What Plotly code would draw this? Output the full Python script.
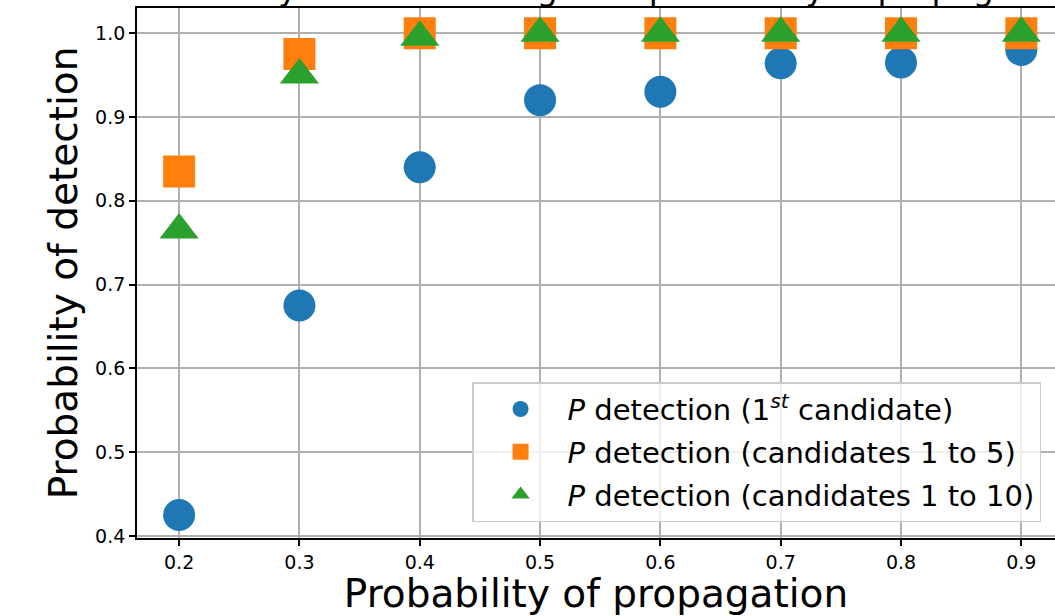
import plotly.graph_objects as go

# Data
p_propagation = [0.2, 0.3, 0.4, 0.5, 0.6, 0.7, 0.8, 0.9]
p_first = [0.425, 0.675, 0.84, 0.92, 0.93, 0.964, 0.965, 0.98]
p_top5 = [0.835, 0.975, 1.0, 1.0, 1.0, 1.0, 1.0, 1.0]
p_top10 = [0.765, 0.95, 0.995, 1.0, 1.0, 1.0, 1.0, 1.0]

x_ticks = [0.2, 0.3, 0.4, 0.5, 0.6, 0.7, 0.8, 0.9]
y_ticks = [0.4, 0.5, 0.6, 0.7, 0.8, 0.9, 1.0]

names = [
    "<i>P</i> detection (1<sup><i>st</i></sup> candidate)",
    "<i>P</i> detection (candidates 1 to 5)",
    "<i>P</i> detection (candidates 1 to 10)",
]
title_text = "Probability of detection against probability of propagation"

FONT = "DejaVu Sans"

fig = go.Figure()
fig.add_trace(go.Scatter(x=p_propagation, y=p_first, mode="markers", name=names[0],
                         legendgroup="g1",
                         marker=dict(symbol="circle", size=32, color="#1f77b4")))
fig.add_trace(go.Scatter(x=p_propagation, y=p_top5, mode="markers", name=names[1],
                         legendgroup="g2",
                         marker=dict(symbol="square", size=32, color="#ff7f0e")))
fig.add_trace(go.Scatter(x=p_propagation, y=p_top10, mode="markers", name=names[2],
                         legendgroup="g3",
                         marker=dict(symbol="triangle-up", size=34, color="#2ca02c")))

fig.add_annotation(text=title_text, xref="x", x=0.55, yref="paper", y=1.0,
                   yanchor="bottom", xanchor="center", showarrow=False,
                   yshift=-2, font=dict(family=FONT, size=33, color="black"))

axis_common = dict(
    showgrid=True, gridcolor="#b0b0b0", gridwidth=1.6,
    showline=True, linecolor="black", linewidth=1.8,
    ticks="outside", ticklen=6, tickwidth=1.6, tickcolor="black",
    tickfont=dict(family=FONT, size=19, color="black"),
    zeroline=False, automargin=False,
)

fig.update_layout(
    width=1055, height=616,
    margin=dict(l=137, r=0, t=8, b=78, autoexpand=False),
    paper_bgcolor="white", plot_bgcolor="white",
    font=dict(family=FONT, color="black"),
    xaxis=dict(range=[0.165, 0.928], tickvals=x_ticks, tickformat=".1f",
               mirror=True,
               title=dict(text="Probability of propagation",
                          font=dict(family=FONT, size=39), standoff=4),
               **axis_common),
    yaxis=dict(range=[0.3975, 1.03], tickvals=y_ticks, tickformat=".1f",
               title=dict(text="Probability of detection",
                          font=dict(family=FONT, size=39), standoff=5),
               **axis_common),
    legend=dict(x=0.365, y=0.294, xanchor="left", yanchor="top",
                bgcolor="rgba(255,255,255,0.8)", bordercolor="#cccccc",
                borderwidth=1.5, font=dict(family=FONT, size=29, color="black"),
                itemsizing="trace", itemwidth=84, traceorder="grouped",
                tracegroupgap=2),
    showlegend=True,
)

fig.write_html("out.html", config={"displayModeBar": False},
               post_script="document.body.style.margin='0';")
